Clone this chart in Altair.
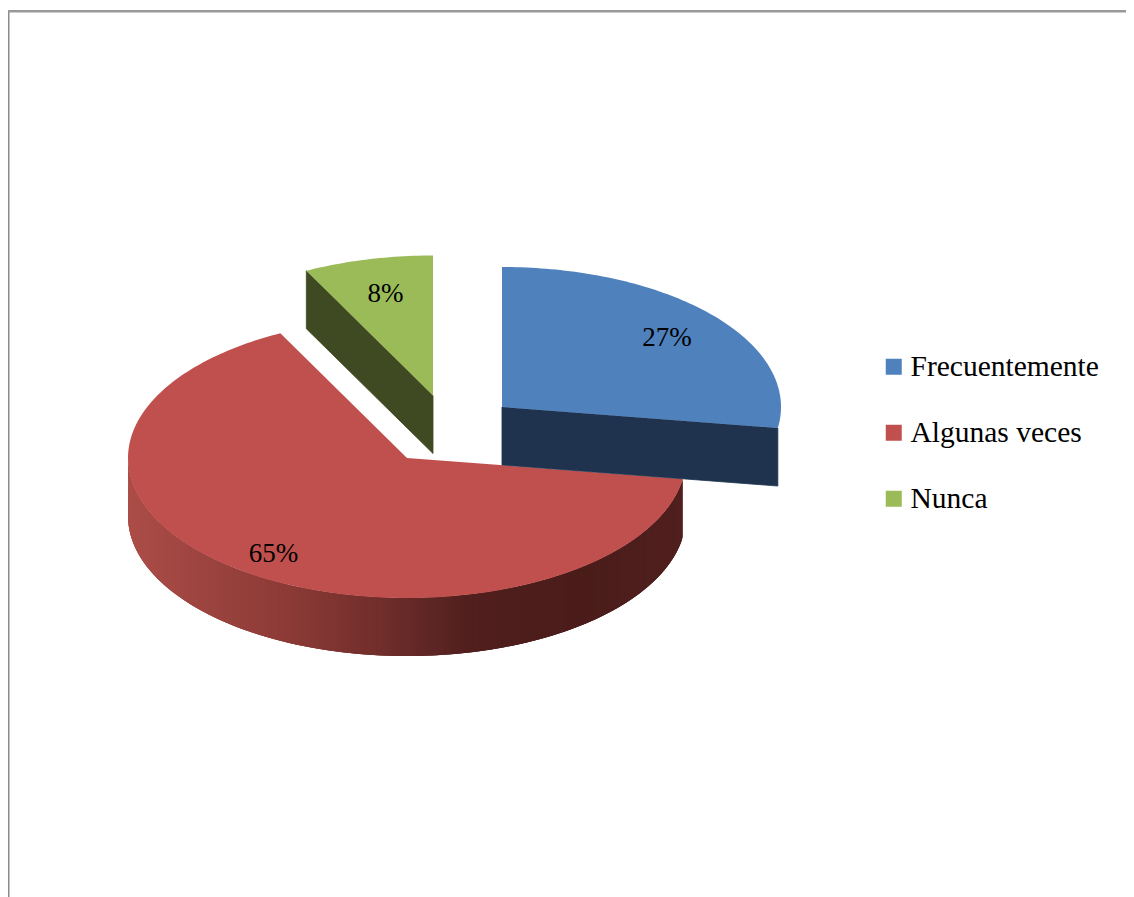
import math
import altair as alt

categories = ["Frecuentemente", "Algunas veces", "Nunca"]
shares = [27.4, 65.1, 7.5]
labels = ["27%", "65%", "8%"]
colors = ["#4F81BD", "#C0504D", "#9BBB59"]
wall_colors = ["#1F334E", "#C0504D", "#3F4A22"]

# layout (pixels inside the chart)
W, H = 1118, 889
centres = {"Frecuentemente": (494, 399), "Algunas veces": (399, 450), "Nunca": (425, 387.5)}
RX, RY, DEPTH = 279, 140, 58
LABEL_R = [0.77, 0.83, 0.76]
# shading of the round wall: x position -> colour
wall_stops = [(121, (172, 77, 72)), (290, (140, 58, 54)), (390, (110, 45, 42)),
              (470, (80, 31, 30)), (580, (74, 28, 26)), (680, (80, 32, 30))]


def rim(c, deg, dy=0.0):
    t = math.radians(deg)
    return [c[0] + RX * math.sin(t), c[1] - RY * math.cos(t) + dy]


def sweep(a, b):
    n = max(2, int(abs(b - a)))
    return [a + (b - a) * i / n for i in range(n + 1)]


def feature(ring, **props):
    ring = ring + [ring[0]]
    return {"type": "Feature", "geometry": {"type": "Polygon", "coordinates": [ring]}, **props}


def shade(x):
    for (x0, c0), (x1, c1) in zip(wall_stops, wall_stops[1:]):
        if x <= x1:
            f = max(0.0, (x - x0) / (x1 - x0))
            return "#%02x%02x%02x" % tuple(round(u + (v - u) * f) for u, v in zip(c0, c1))
    return "#%02x%02x%02x" % wall_stops[-1][1]


spans = []
a = 0.0
for s in shares:
    b = a + s * 3.6
    spans.append((a, b))
    a = b

tops, walls, text_rows = [], [], []
for i, cat in enumerate(categories):
    c = centres[cat]
    a, b = spans[i]
    tops.append(feature([list(c)] + [rim(c, d) for d in sweep(a, b)], cat=cat, order=i))
    mid = math.radians((a + b) / 2)
    text_rows.append({"t": labels[i],
                      "px": c[0] + RX * LABEL_R[i] * math.sin(mid),
                      "py": c[1] - RY * LABEL_R[i] * math.cos(mid)})

# straight inner walls
cb = centres["Frecuentemente"]
end_b = rim(cb, spans[0][1])
blue_wall = feature([list(cb), end_b, [end_b[0], end_b[1] + DEPTH], [cb[0], cb[1] + DEPTH]],
                    shade=wall_colors[0])
cg = centres["Nunca"]
st_g = rim(cg, spans[2][0])
green_wall = feature([list(cg), st_g, [st_g[0], st_g[1] + DEPTH], [cg[0], cg[1] + DEPTH]],
                     shade=wall_colors[2])

# round outer wall of the large slice: each shaded strip runs on under the next one
# and is painted before it, so no seams appear between them
cr = centres["Algunas veces"]
first, last = spans[1][0], 270.0
STEPS = 170
for k in range(STEPS):
    d0 = first + (last - first) * k / STEPS
    d1 = min(last, first + (last - first) * (k + 1) / STEPS)
    d_end = min(last, d0 + (last - first) * 3 / STEPS)
    x_mid = (rim(cr, d0)[0] + rim(cr, d1)[0]) / 2
    arc = [d0, (d0 + d_end) / 2, d_end]
    upper = [rim(cr, d) for d in arc]
    lower = [rim(cr, d, DEPTH) for d in reversed(arc)]
    walls.append(feature(upper + lower, shade=shade(x_mid)))
# painting goes from the left end to the right end, every strip covering the tail of the last
walls.reverse()
for k, w in enumerate(walls):
    w["order"] = k


def wall_layer(rows, width=0.8):
    return alt.Chart(alt.Data(values=rows)).mark_geoshape(strokeWidth=width).encode(
        fill=alt.Fill("shade:N", scale=None),
        stroke=alt.Stroke("shade:N", scale=None),
    ).project(type="identity", scale=1, translate=[0, 0])


color_scale = alt.Scale(domain=categories, range=colors)


def top_layer(rows):
    return alt.Chart(alt.Data(values=rows)).mark_geoshape(strokeWidth=0).encode(
        color=alt.Color(
            "cat:N", scale=color_scale, sort=categories,
            legend=alt.Legend(
                title=None, orient="none", legendX=871, legendY=344,
                symbolType="square", symbolSize=256, symbolStrokeWidth=0,
                labelFont="Liberation Serif", labelFontSize=29.5, labelColor="#000000",
                labelOffset=2, rowPadding=35, labelLimit=300,
            ),
        ),
    ).project(type="identity", scale=1, translate=[0, 0])


frame_left = alt.Chart(alt.Data(values=[{}])).mark_rule(color="#8a8a8a", strokeWidth=1.6).encode(
    x=alt.value(0.7), y=alt.value(3), y2=alt.value(H))
frame_top = alt.Chart(alt.Data(values=[{}])).mark_rule(color="#999999", strokeWidth=2.6).encode(
    y=alt.value(3.3), x=alt.value(0), x2=alt.value(W))

text = alt.Chart(alt.Data(values=text_rows)).mark_text(
    font="Liberation Serif", fontSize=27, color="#000000", align="center", baseline="middle",
    dx=2, dy=1.5,
).encode(
    x=alt.X("px:Q", scale=None, axis=None),
    y=alt.Y("py:Q", scale=None, axis=None),
    text="t:N",
)

chart = alt.layer(
    frame_left, frame_top,
    wall_layer(walls, 0),
    top_layer([tops[1]]),
    wall_layer([green_wall]),
    top_layer([tops[2]]),
    wall_layer([blue_wall]),
    top_layer([tops[0]]),
    text,
).properties(
    width=W, height=H, padding=0, background="#ffffff",
    autosize=alt.AutoSizeParams(type="none"),
).configure_view(stroke=None)

chart.save("out.html", embed_options={"renderer": "svg", "actions": False})
